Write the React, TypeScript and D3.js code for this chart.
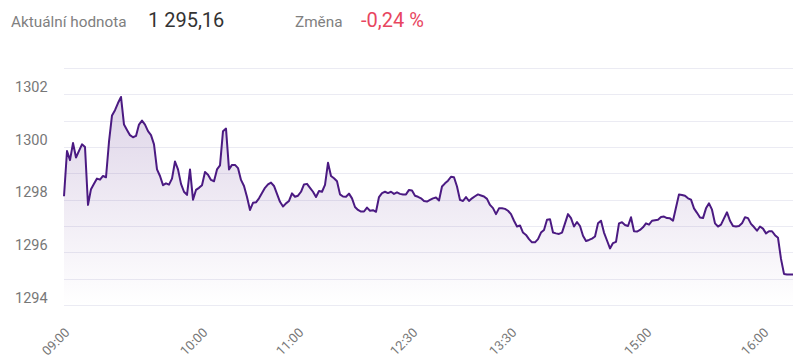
import React from "react";
import * as d3 from "d3";

// Intraday values, sampled at a uniform step along the session axis
const values: number[] = [
  1298.13, 1299.85, 1299.5, 1300.15, 1299.6, 1299.85, 1300.1, 1300.0, 1297.8, 1298.4,
  1298.6, 1298.8, 1298.76, 1298.9, 1298.85, 1300.2, 1301.2, 1301.4, 1301.67, 1301.9,
  1300.85, 1300.65, 1300.45, 1300.37, 1300.42, 1300.85, 1301.0, 1300.85, 1300.6, 1300.45,
  1300.1, 1299.15, 1298.9, 1298.55, 1298.62, 1298.57, 1298.8, 1299.45, 1299.15, 1298.6,
  1298.3, 1298.18, 1299.15, 1298.0, 1298.37, 1298.45, 1298.55, 1299.05, 1298.95, 1298.75,
  1298.7, 1299.15, 1299.3, 1300.6, 1300.7, 1299.15, 1299.32, 1299.32, 1299.2, 1298.75,
  1298.52, 1298.1, 1297.61, 1297.88, 1297.9, 1298.05, 1298.25, 1298.45, 1298.58, 1298.65,
  1298.52, 1298.22, 1297.92, 1297.74, 1297.86, 1297.95, 1298.24, 1298.11, 1298.15, 1298.3,
  1298.58, 1298.6, 1298.45, 1298.3, 1298.1, 1298.33, 1298.3, 1298.56, 1299.4, 1298.9,
  1298.81, 1298.7, 1298.2, 1298.12, 1298.11, 1298.23, 1298.05, 1297.72, 1297.61, 1297.55,
  1297.55, 1297.7, 1297.58, 1297.6, 1297.54, 1298.1, 1298.25, 1298.3, 1298.25, 1298.3,
  1298.22, 1298.28, 1298.22, 1298.2, 1298.2, 1298.37, 1298.35, 1298.15, 1298.11, 1298.05,
  1297.95, 1297.93, 1297.99, 1298.05, 1298.08, 1297.97, 1298.5, 1298.62, 1298.72, 1298.87,
  1298.85, 1298.5, 1297.99, 1297.95, 1298.1, 1297.95, 1298.05, 1298.13, 1298.2, 1298.16,
  1298.12, 1298.03, 1297.8, 1297.68, 1297.45, 1297.67, 1297.67, 1297.65, 1297.58, 1297.45,
  1297.2, 1296.98, 1297.02, 1296.75, 1296.66, 1296.5, 1296.38, 1296.38, 1296.5, 1296.75,
  1296.85, 1297.24, 1297.26, 1296.75, 1296.72, 1296.7, 1296.75, 1297.1, 1297.45, 1297.3,
  1296.98, 1297.15, 1297.0, 1296.63, 1296.43, 1296.47, 1296.52, 1296.6, 1297.1, 1297.2,
  1296.75, 1296.45, 1296.15, 1296.35, 1296.4, 1297.1, 1297.14, 1297.04, 1297.0, 1297.33,
  1296.8, 1296.79, 1296.85, 1296.95, 1297.1, 1297.05, 1297.2, 1297.22, 1297.24, 1297.34,
  1297.36, 1297.3, 1297.29, 1297.2, 1297.7, 1298.2, 1298.18, 1298.15, 1298.05, 1298.0,
  1297.67, 1297.5, 1297.32, 1297.3, 1297.67, 1297.86, 1297.62, 1297.1, 1296.98, 1297.05,
  1297.29, 1297.52, 1297.2, 1297.0, 1296.98, 1297.0, 1297.1, 1297.33, 1297.3, 1297.08,
  1296.96, 1296.82, 1296.98, 1296.9, 1296.72, 1296.8, 1296.8, 1296.65, 1296.55, 1295.75,
  1295.18, 1295.16, 1295.16, 1295.16,
];

const timeLabels: string[] = ["09:00", "10:00", "11:00", "12:30", "13:30", "15:00", "16:00"];
const timeLabelIndex: number[] = [0, 46, 78, 116, 149, 194, 233];

const yTickLabels: number[] = [1294, 1296, 1298, 1300, 1302];
const gridValues: number[] = [1294, 1295, 1296, 1297, 1298, 1299, 1300, 1301, 1302, 1303];

const currentLabel = "Aktuální hodnota";
const currentValue = "1 295,16";
const changeLabel = "Změna";
const changeValue = "-0,24 %";

const W = 800;
const H = 363;
const FONT = "Roboto, 'Noto Sans', sans-serif";

export default function App() {
  const x = d3.scaleLinear().domain([0, values.length - 1]).range([64, 793]);
  const y = d3.scaleLinear().domain([1294, 1303]).range([305, 68]);

  const line = d3
    .line<number>()
    .x((_, i) => x(i))
    .y((d) => y(d));
  const area = d3
    .area<number>()
    .x((_, i) => x(i))
    .y0(y(1294))
    .y1((d) => y(d));

  const maxV = d3.max(values) as number;

  return (
    <svg
      width={W}
      height={H}
      style={{ position: "absolute", left: 0, top: 0, background: "#fff" }}
      fontFamily={FONT}
    >
      <defs>
        <linearGradient
          id="areaGrad"
          gradientUnits="userSpaceOnUse"
          x1="0"
          x2="0"
          y1={y(maxV)}
          y2={y(1294)}
        >
          <stop offset="0%" stopColor="#5b2a8c" stopOpacity={0.2} />
          <stop offset="100%" stopColor="#5b2a8c" stopOpacity={0} />
        </linearGradient>
      </defs>

      {/* header */}
      <text x={11} y={26.5} fontSize={15.3} fill="#808080">
        {currentLabel}
      </text>
      <text x={148} y={26.5} fontSize={20} fill="#333">
        {currentValue}
      </text>
      <text x={295} y={26.5} fontSize={15.3} fill="#808080">
        {changeLabel}
      </text>
      <text x={361} y={26.5} fontSize={20} fill="#e8465f">
        {changeValue}
      </text>

      {/* grid */}
      {gridValues.map((v) => (
        <line
          key={v}
          x1={64}
          x2={793}
          y1={Math.round(y(v)) + 0.5}
          y2={Math.round(y(v)) + 0.5}
          stroke="#ebebf3"
          strokeWidth={1}
        />
      ))}

      {/* y labels */}
      {yTickLabels.map((v) => (
        <text key={v} x={15} y={y(v) - 2.5} fontSize={14.5} fill="#777">
          {v}
        </text>
      ))}

      {/* area + line */}
      <path d={area(values) || ""} fill="url(#areaGrad)" />
      <path
        d={line(values) || ""}
        fill="none"
        stroke="#4b1a82"
        strokeWidth={2}
        strokeLinejoin="round"
      />

      {/* x labels */}
      {timeLabels.map((t, k) => (
        <text
          key={t}
          transform={`translate(${x(timeLabelIndex[k])},${327}) rotate(-45)`}
          textAnchor="end"
          dy="0.7em"
          fontSize={13}
          fill="#777"
        >
          {t}
        </text>
      ))}
    </svg>
  );
}
